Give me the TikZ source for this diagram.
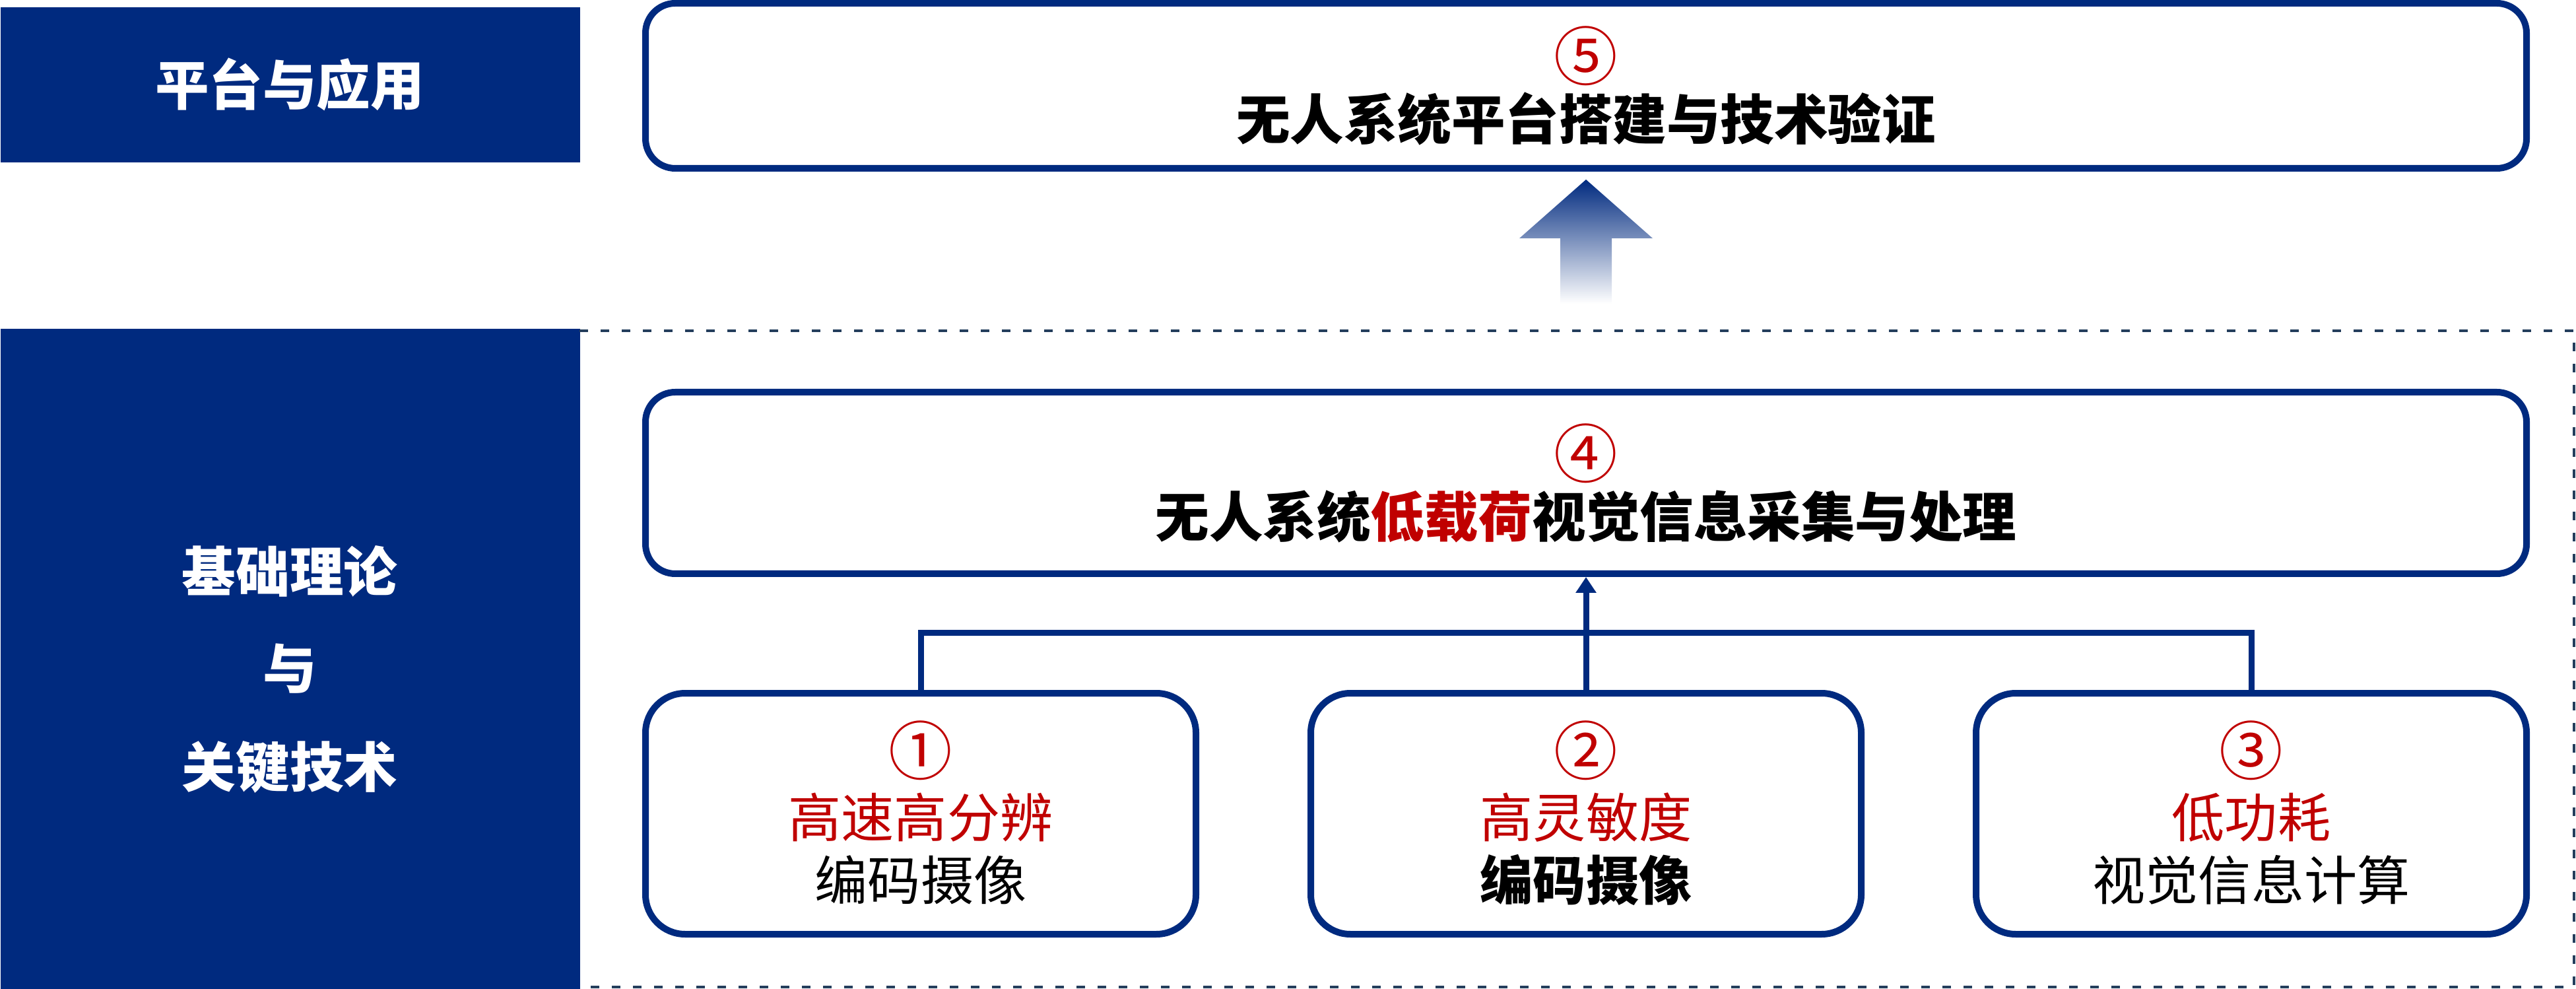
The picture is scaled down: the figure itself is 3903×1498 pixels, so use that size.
\documentclass[tikz,border=0pt]{standalone}
\usepackage{fontspec}
\setmainfont{Noto Sans CJK SC}
\usetikzlibrary{arrows.meta}
\definecolor{navy}{RGB}{0,42,127}
\definecolor{dred}{RGB}{192,0,0}
\definecolor{dashc}{RGB}{36,62,92}
\tikzset{
  bigbox/.style={draw=navy, line width=1mm, rounded corners=4.5mm, fill=white, inner sep=0, minimum width=285mm},
  smallbox/.style={draw=navy, line width=1mm, rounded corners=6mm, fill=white, inner sep=0, minimum width=83.4mm, minimum height=36.5mm},
  sidebox/.style={fill=navy, draw=none, inner sep=0, anchor=north west, minimum width=87.8mm},
  sidelbl/.style={text=white, font=\bfseries\fontsize{23.2pt}{28pt}\selectfont, inner sep=0},
  titlelbl/.style={text=black, font=\bfseries\fontsize{23.2pt}{28pt}\selectfont, inner sep=0},
  numlbl/.style={text=dred, font=\fontsize{27.5pt}{32pt}\selectfont, inner sep=0},
  bodylbl/.style={font=\fontsize{22.8pt}{27pt}\selectfont, inner sep=0},
  conn/.style={draw=navy, line width=0.9mm},
}
\begin{document}
\begin{tikzpicture}[x=0.1mm, y=-0.1mm]
\useasboundingbox (0,0) rectangle (3903,1498);

% left side bars
\node[sidebox, minimum height=23.5mm] (lb1) at (0,10) {};
\node[sidebox, minimum height=100.1mm] (lb2) at (0,497) {};
\node[sidelbl] (lt1) at (439,128) {平台与应用};
\node[sidelbl] (lt2) at (439,865) {基础理论};
\node[sidelbl] (lt3) at (439,1013) {与};
\node[sidelbl] (lt4) at (439,1162) {关键技术};

% dashed frame
\draw[dashc, line width=0.45mm, dash pattern=on 1.34mm off 1.86mm]
  (878,501) -- (3900,501) -- (3900,1495) -- (878,1495);

% boxes
\node[bigbox, minimum height=25mm] (b5) at (2403,130) {};
\node[bigbox, minimum height=27.5mm] (b4) at (2403,731.5) {};
\node[smallbox] (b1) at (1395,1232.5) {};
\node[smallbox] (b2) at (2403,1232.5) {};
\node[smallbox] (b3) at (3411,1232.5) {};

% box texts
\node[numlbl] (n5) at (2403,84.5) {⑤};
\node[titlelbl] (t5) at (2403,180) {无人系统平台搭建与技术验证};
\node[numlbl] (n4) at (2403,687) {④};
\node[titlelbl] (t4) at (2403,782) {无人系统\textcolor{dred}{低载荷}视觉信息采集与处理};

\node[numlbl] (n1) at (1395,1137) {①};
\node[bodylbl, text=dred] (r1) at (1395,1238) {高速高分辨};
\node[bodylbl] (k1) at (1395,1333) {编码摄像};

\node[numlbl] (n2) at (2403,1137) {②};
\node[bodylbl, text=dred] (r2) at (2403,1238) {高灵敏度};
\node[bodylbl, font=\bfseries\fontsize{22.8pt}{27pt}\selectfont] (k2) at (2403,1333) {编码摄像};

\node[numlbl] (n3) at (3411,1137) {③};
\node[bodylbl, text=dred] (r3) at (3411,1238) {低功耗};
\node[bodylbl] (k3) at (3411,1333) {视觉信息计算};

% connectors
\coordinate (bar) at (2403,959);
\draw[conn] (b1.north) |- (bar) -| (b3.north);
\draw[conn, -{Triangle[length=2.4mm, width=3mm]}] (b2.north) -- (b4.south);

% big gradient arrow
\shade[top color=navy, middle color=navy!72!white, bottom color=white]
  (2364,460) -- (2364,361) -- (2302,361) -- (2403,272) -- (2504,361)
  -- (2442,361) -- (2442,460) -- cycle;
\end{tikzpicture}
\end{document}
